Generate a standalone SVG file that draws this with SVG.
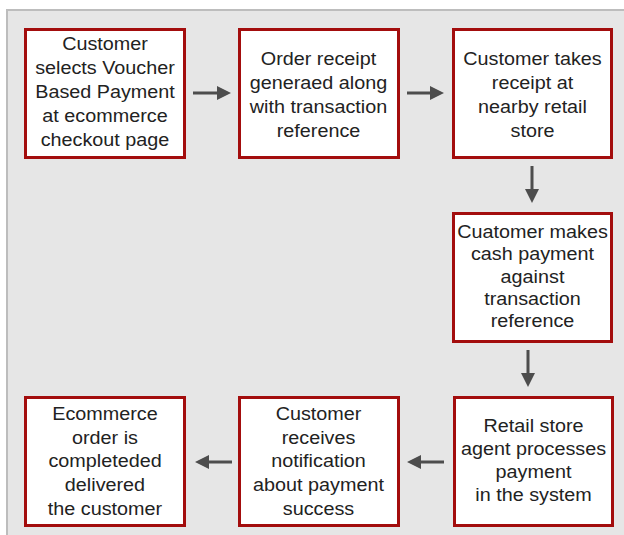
<svg xmlns="http://www.w3.org/2000/svg" width="624" height="535" viewBox="0 0 624 535">
<defs>
<style>
.box{fill:#fff;stroke:#a30d0d;stroke-width:3}
.t{font-family:"Liberation Sans",Arial,sans-serif;font-size:18.5px;fill:#222;text-anchor:middle}
.c{stroke:#4d4d4d;stroke-width:3;fill:none}
.h{fill:#4d4d4d}
</style>
</defs>
<rect width="624" height="535" fill="#fff"/>
<rect x="7" y="10" width="630" height="540" fill="#e6e6e6" stroke="#bdbdbd" stroke-width="2"/>
<g id="connectors">
<line class="c" x1="193" y1="93" x2="219" y2="93"/><polygon class="h" points="217,86 231,93 217,100"/>
<line class="c" x1="407" y1="93" x2="432" y2="93"/><polygon class="h" points="430,86 444,93 430,100"/>
<line class="c" x1="532" y1="166" x2="532" y2="191"/><polygon class="h" points="525,189 532,203 539,189"/>
<line class="c" x1="528" y1="350" x2="528" y2="375"/><polygon class="h" points="521,373 528,387 535,373"/>
<line class="c" x1="444" y1="462" x2="419" y2="462"/><polygon class="h" points="421,455 407,462 421,469"/>
<line class="c" x1="232" y1="462" x2="207" y2="462"/><polygon class="h" points="209,455 195,462 209,469"/>
</g>
<g id="n1"><rect class="box" x="25.5" y="29.5" width="159" height="128"/>
<g transform="translate(105 0) scale(1.07 1)"><text class="t" x="0" y="50">Customer</text><text class="t" x="0" y="74">selects Voucher</text><text class="t" x="0" y="98">Based Payment</text><text class="t" x="0" y="122">at ecommerce</text><text class="t" x="0" y="146">checkout page</text></g></g>
<g id="n2"><rect class="box" x="239.5" y="29.5" width="159" height="128"/>
<g transform="translate(318.5 0) scale(1.07 1)"><text class="t" x="0" y="65">Order receipt</text><text class="t" x="0" y="89">generaed along</text><text class="t" x="0" y="113">with transaction</text><text class="t" x="0" y="137">reference</text></g></g>
<g id="n3"><rect class="box" x="453.5" y="29.5" width="158" height="128"/>
<g transform="translate(532.5 0) scale(1.07 1)"><text class="t" x="0" y="65">Customer takes</text><text class="t" x="0" y="89">receipt at</text><text class="t" x="0" y="113">nearby retail</text><text class="t" x="0" y="137">store</text></g></g>
<g id="n4"><rect class="box" x="453.5" y="213.5" width="158" height="128"/>
<g transform="translate(532.5 0) scale(1.07 1)"><text class="t" x="0" y="238">Cuatomer makes</text><text class="t" x="0" y="260.5">cash payment</text><text class="t" x="0" y="283">against</text><text class="t" x="0" y="305">transaction</text><text class="t" x="0" y="327">reference</text></g></g>
<g id="n5"><rect class="box" x="454.5" y="397.5" width="158" height="128"/>
<g transform="translate(533.5 0) scale(1.07 1)"><text class="t" x="0" y="432">Retail store</text><text class="t" x="0" y="455">agent processes</text><text class="t" x="0" y="478">payment</text><text class="t" x="0" y="501">in the system</text></g></g>
<g id="n6"><rect class="box" x="239.5" y="397.5" width="159" height="128"/>
<g transform="translate(318.5 0) scale(1.07 1)"><text class="t" x="0" y="420">Customer</text><text class="t" x="0" y="443.75">receives</text><text class="t" x="0" y="467.5">notification</text><text class="t" x="0" y="491.25">about payment</text><text class="t" x="0" y="515">success</text></g></g>
<g id="n7"><rect class="box" x="25.5" y="397.5" width="159" height="128"/>
<g transform="translate(105 0) scale(1.07 1)"><text class="t" x="0" y="420">Ecommerce</text><text class="t" x="0" y="443.75">order is</text><text class="t" x="0" y="467.5">completeded</text><text class="t" x="0" y="491.25">delivered</text><text class="t" x="0" y="515">the customer</text></g></g>
</svg>
